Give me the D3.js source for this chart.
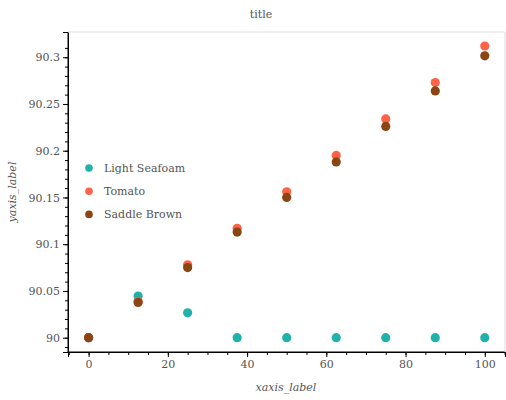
<!DOCTYPE html>
<html lang="en">
<head>
<meta charset="UTF-8">
<script src="https://cdnjs.cloudflare.com/ajax/libs/d3/7.8.5/d3.min.js"></script>
<style>
  body { margin: 0; background: #fff; }
  text { font-family: 'DejaVu Serif', serif; fill: #555; }
</style>
</head>
<body>
<svg id="chart" width="506" height="400"></svg>
<script>
// data
const xValues = [0, 12.5, 25, 37.5, 50, 62.5, 75, 87.5, 100];
const lightSeafoam = [90, 90.0445, 90.0266, 90, 90, 90, 90, 90, 90];
const tomato = [90, 90.039, 90.078, 90.117, 90.156, 90.195, 90.234, 90.273, 90.312];
const saddleBrown = [90, 90.0377, 90.075, 90.113, 90.150, 90.188, 90.226, 90.264, 90.3015];
const seriesNames = ["Light Seafoam", "Tomato", "Saddle Brown"];
const seriesColors = ["#20b2aa", "#ff6347", "#8b4513"];
const xTicks = [0, 20, 40, 60, 80, 100];
const yTicks = [90, 90.05, 90.1, 90.15, 90.2, 90.25, 90.3];

const svg = d3.select("#chart");
const mLeft = 68, mRight = 505, mTop = 32, mBottom = 352;

const x = d3.scaleLinear().domain([-5.2, 105.1]).range([mLeft, mRight]);
const y = d3.scaleLinear().domain([89.9847, 90.327]).range([mBottom, mTop]);

// minor ticks
svg.append("g").attr("transform", `translate(0,${mBottom})`)
  .call(d3.axisBottom(x).tickValues(d3.range(-5, 106, 5)).tickFormat("").tickSize(3))
  .call(g => g.select(".domain").remove());
svg.append("g").attr("transform", `translate(${mLeft},0)`)
  .call(d3.axisLeft(y).tickValues(d3.range(0, 33).map(i => 90 - 0.01 + i * 0.01)).tickFormat("").tickSize(3))
  .call(g => g.select(".domain").remove());

const xAxis = svg.append("g").attr("transform", `translate(0,${mBottom})`)
  .call(d3.axisBottom(x).tickValues(xTicks).tickFormat(d3.format("d")).tickSize(5));
const yAxis = svg.append("g").attr("transform", `translate(${mLeft},0)`)
  .call(d3.axisLeft(y).tickValues(yTicks).tickFormat(d => String(+d.toFixed(2))).tickSize(5));
[xAxis, yAxis].forEach(g => {
  g.selectAll("text").style("font-size", "11px").style("font-family", "'DejaVu Serif', serif").attr("fill", "#555");
});
svg.selectAll(".tick line").attr("stroke", "#000");

// frame
svg.append("line").attr("x1", mLeft).attr("x2", mLeft).attr("y1", mTop).attr("y2", mBottom).attr("stroke", "#000");
svg.append("line").attr("x1", mLeft).attr("x2", mRight).attr("y1", mBottom).attr("y2", mBottom).attr("stroke", "#000");
svg.append("line").attr("x1", mLeft).attr("x2", mRight).attr("y1", mTop).attr("y2", mTop).attr("stroke", "#ddd");
svg.append("line").attr("x1", mRight).attr("x2", mRight).attr("y1", mTop).attr("y2", mBottom).attr("stroke", "#ddd");

[lightSeafoam, tomato, saddleBrown].forEach((vals, i) => {
  svg.append("g").selectAll("circle").data(vals).join("circle")
    .attr("cx", (d, j) => x(xValues[j])).attr("cy", d => y(d))
    .attr("r", 4.6).attr("fill", seriesColors[i]);
});

// legend
seriesNames.forEach((n, i) => {
  const ly = 168 + i * 23.2;
  svg.append("circle").attr("cx", 89).attr("cy", ly).attr("r", 3.8).attr("fill", seriesColors[i]);
  svg.append("text").attr("x", 104).attr("y", ly + 4).style("font-size", "11px").text(n);
});

svg.append("text").attr("x", 261).attr("y", 18).attr("text-anchor", "middle").style("font-size", "11px").text("title");
svg.append("text").attr("x", 286).attr("y", 391).attr("text-anchor", "middle").style("font-size", "11px").style("font-style", "italic").text("xaxis_label");
svg.append("text").attr("transform", "translate(16,192) rotate(-90)").attr("text-anchor", "middle").style("font-size", "11px").style("font-style", "italic").text("yaxis_label");
</script>
</body>
</html>
